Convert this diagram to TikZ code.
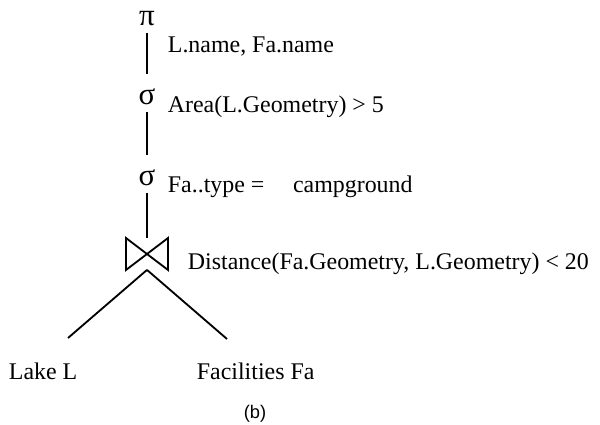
\documentclass[tikz,border=0pt]{standalone}
\usepackage{fontspec}
\setmainfont{Liberation Serif}
\newfontfamily\capsans{Liberation Sans}
\usetikzlibrary{positioning}

\begin{document}
\begin{tikzpicture}[x=0.025cm,y=-0.025cm,line width=1.3pt,
  op/.style={font=\fontsize{22}{22}\selectfont,inner sep=0pt,text height=16pt,text depth=0pt,minimum height=0.9cm},
  cond/.style={anchor=base west,inner sep=0pt,font=\fontsize{17}{19}\selectfont},
  leaf/.style={anchor=base west,inner sep=0pt,font=\fontsize{17}{19}\selectfont}]
  \useasboundingbox (0,0) rectangle (600,425);
  \node[op] (proj) at (147,14) {π};
  \node[op] (sel1) at (147,93) {σ};
  \node[op] (sel2) at (147,174) {σ};
  \node[inner sep=0pt,minimum width=1cm,minimum height=0.75cm] (join) at (147,254) {};
  \draw (join.north west) -- (join.south east) -- (join.north east) -- (join.south west) -- cycle;
  \node[cond] (projc) at (167,53) {L.name, Fa.name};
  \node[cond] (sel1c) at (167,113) {Area(L.Geometry) > 5};
  \node[cond] (sel2c) at (167,193) {Fa..type =\hspace{1.2em}campground};
  \node[cond] (joinc) at (187,270) {Distance(Fa.Geometry, L.Geometry) < 20};
  \coordinate (lakeend) at (68,338);
  \coordinate (facend) at (227,339);
  \node[leaf] (lake) at (8,380) {Lake L};
  \node[leaf] (fac) at (196,380) {Facilities Fa};
  \node[font=\capsans\fontsize{13}{15}\selectfont,inner sep=0pt] (cap) at (255,414) {(b)};
  \draw (proj) -- (sel1);
  \draw (sel1) -- (sel2);
  \draw (sel2) -- (join);
  \draw (join.south) -- (lakeend);
  \draw (join.south) -- (facend);
\end{tikzpicture}
\end{document}
